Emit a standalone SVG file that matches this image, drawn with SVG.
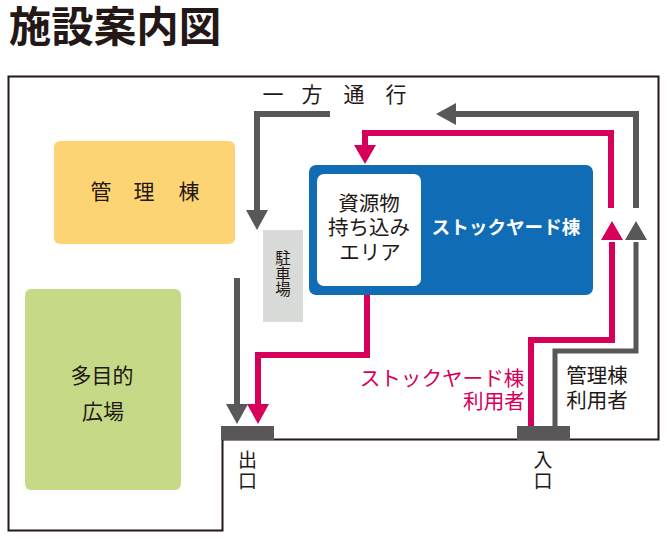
<svg xmlns="http://www.w3.org/2000/svg" width="670" height="540" viewBox="0 0 670 540">
<style>
text{font-family:"Noto Sans CJK JP","Noto Sans",sans-serif;fill:#231815;text-anchor:middle}
.l{font-size:20.500px}
.v{writing-mode:vertical-rl}
.g{fill:none;stroke:#595757;stroke-width:6}
.p{fill:none;stroke:#d6005a;stroke-width:6}
.gh{fill:#595757}
.ph{fill:#d6005a}
</style>
<rect width="670" height="540" fill="#fff"/>
<text x="115" y="42" font-size="42.500" font-weight="700">施設案内図</text>
<path id="site" d="M8.500 76.500H658.500V439.500H222.500V530.500H8.500Z" fill="none" stroke="#231815" stroke-width="2"/>
<g id="kanri"><rect x="54" y="141" width="181" height="103" rx="6" fill="#fdd474"/>
<text font-size="21" x="101 144 189" y="199">管理棟</text></g>
<g id="hiroba"><rect x="25" y="289" width="156" height="201" rx="6" fill="#c5d987"/>
<text font-size="21"><tspan x="102" y="383">多目的</tspan><tspan x="103" y="419">広場</tspan></text></g>
<g id="parking"><rect x="263" y="230" width="40" height="92" fill="#d9dbd9"/>
<text class="v" font-size="15.500" x="283" y="274">駐車場</text></g>
<g id="stockyard"><rect x="309" y="165" width="284" height="130" rx="7" fill="#0f6cb5"/>
<rect x="317" y="174" width="104" height="112" rx="7" fill="#fff"/>
<text class="l"><tspan x="369" y="211">資源物</tspan><tspan x="369" y="235">持ち込み</tspan><tspan x="370" y="260">エリア</tspan></text>
<text x="506" y="234" font-size="18.600" font-weight="700" style="fill:#fff">ストックヤード棟</text></g>
<g id="connectors">
<path class="g" d="M330 114H257V212"/><path class="gh" d="M246 210H268L257 230Z"/>
<path class="g" d="M636 208V114H454"/><path class="gh" d="M456 103V125L436 114Z"/>
<path class="p" d="M611 208V133H365V147"/><path class="ph" d="M354 145H376L365 164Z"/>
<path class="g" d="M237 278V406"/><path class="gh" d="M226 404H248L237 424Z"/>
<path class="p" d="M367 295V355H258V406"/><path class="ph" d="M247 404H269L258 424Z"/>
<path class="p" d="M531 426V340H612V242"/><path class="ph" d="M601 240H623L612 221Z"/>
<path class="g" d="M555 426V351H636V242" style="stroke-width:5"/><path class="gh" d="M625 240H647L636 221Z"/>
</g>
<g id="gates"><rect x="221" y="426" width="53" height="14" fill="#595757"/><rect x="517" y="426" width="53" height="14" fill="#595757"/></g>
<text class="v" x="247.500" y="471" font-size="19" letter-spacing="2">出口</text>
<text class="v" x="543" y="471" font-size="19" letter-spacing="2">入口</text>
<text font-size="21" x="273 312 354 396" y="102">一方通行</text>
<text font-size="20.600" style="fill:#d6005a"><tspan x="442" y="386">ストックヤード棟</tspan><tspan x="494" y="409">利用者</tspan></text>
<text class="l"><tspan x="597" y="383">管理棟</tspan><tspan x="597" y="408">利用者</tspan></text>
</svg>
